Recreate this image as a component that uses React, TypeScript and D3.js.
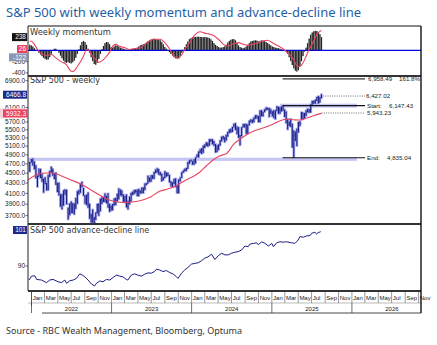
import React from 'react';
import * as d3 from 'd3';

const W = 437, H = 345;
const L = 28, R = 421;
const MOM_TOP = 26, MOM_BOT = 76, PX_TOP = 76, PX_BOT = 224, AD_TOP = 224, AD_BOT = 291, MON_BOT = 303, YR_BOT = 313;

const firstWeek = new Date(2021, 11, 24);

const weekHighs = [
  4740, 4808,
  4818, 4749, 4666, 4453, 4595, 4590, 4489, 4386, 4417, 4300, 4465, 4546, 4637, 4594, 4500, 4513, 4308, 4308, 4082, 4090, 4158, 4177, 4168, 3838, 3913, 3950, 3919, 3915, 4013, 4140, 4167, 4280, 4325, 4203, 4062, 4076, 4119, 3907, 3733, 3807, 3679, 3753, 3905, 3912, 4001, 4028, 4034, 4100, 4052, 4101, 3906, 3878,
  3906, 4003, 4015, 4094, 4195, 4176, 4156, 4079, 4049, 4079, 3963, 4039, 4110, 4133, 4163, 4170, 4170, 4186, 4154, 4212, 4212, 4290, 4299, 4448, 4408, 4458, 4456, 4528, 4578, 4607, 4584, 4527, 4490, 4418, 4541, 4515, 4511, 4462, 4338, 4315, 4385, 4394, 4259, 4374, 4415, 4521, 4560, 4595, 4609, 4738, 4778, 4793,
  4754, 4802, 4842, 4907, 4975, 5030, 5048, 5111, 5140, 5190, 5180, 5262, 5265, 5264, 5220, 5150, 5114, 5139, 5239, 5325, 5342, 5315, 5376, 5447, 5505, 5524, 5570, 5655, 5670, 5585, 5566, 5371, 5563, 5643, 5651, 5651, 5636, 5733, 5768, 5767, 5822, 5879, 5878, 5862, 6012, 6018, 5980, 6045, 6099, 6085, 6085, 6050,
  5993, 6021, 6014, 6128, 6120, 6101, 6128, 6147, 6043, 5986, 5783, 5715, 5787, 5655, 5482, 5459, 5528, 5700, 5720, 5969, 5953, 5944, 6016, 6059, 6051, 6187, 6284, 6290, 6315, 6395, 6427, 6395, 6481,
];
const weekLows = [
  4531, 4729,
  4662, 4582, 4395, 4222, 4433, 4401, 4327, 4115, 4279, 4157, 4161, 4424, 4517, 4450, 4381, 4267, 4128, 4062, 3858, 3811, 3875, 4073, 3900, 3636, 3705, 3741, 3742, 3721, 3818, 3910, 4079, 4112, 4218, 4057, 3907, 3886, 3838, 3647, 3584, 3585, 3491, 3631, 3739, 3698, 3779, 3906, 3940, 3940, 3918, 3839, 3765, 3783,
  3794, 3877, 3885, 3950, 3990, 4060, 4048, 3943, 3928, 3847, 3809, 3901, 3951, 4069, 4086, 4113, 4049, 4048, 4098, 4103, 4104, 4166, 4262, 4293, 4328, 4328, 4385, 4389, 4504, 4516, 4474, 4458, 4335, 4356, 4403, 4430, 4448, 4316, 4238, 4216, 4283, 4223, 4104, 4103, 4339, 4405, 4511, 4537, 4546, 4597, 4699, 4751,
  4682, 4682, 4714, 4845, 4845, 4943, 4920, 4946, 5057, 5105, 5090, 5116, 5203, 5146, 5107, 4953, 4963, 5011, 5114, 5219, 5257, 5191, 5235, 5334, 5420, 5433, 5446, 5563, 5497, 5390, 5302, 5119, 5342, 5562, 5560, 5402, 5406, 5615, 5703, 5674, 5696, 5784, 5794, 5697, 5696, 5853, 5853, 5972, 6020, 6030, 5832, 5920,
  5854, 5807, 5773, 6000, 5924, 5923, 5985, 6008, 5837, 5666, 5505, 5597, 5572, 5070, 4835, 5220, 5101, 5434, 5598, 5770, 5768, 5802, 5861, 5963, 5952, 5960, 6174, 6202, 6201, 6280, 6212, 6247, 6360,
];
const weekCloses = [
  4725, 4766,
  4677, 4663, 4398, 4432, 4501, 4419, 4349, 4385, 4329, 4204, 4463, 4543, 4546, 4488, 4393, 4272, 4132, 4123, 4024, 3901, 4158, 4109, 3901, 3675, 3912, 3825, 3899, 3863, 3962, 4130, 4145, 4280, 4228, 4058, 3924, 4067, 3873, 3693, 3586, 3640, 3583, 3752, 3901, 3771, 3993, 3965, 4026, 4072, 3934, 3852, 3845, 3840,
  3895, 3999, 3973, 4071, 4136, 4090, 4079, 3970, 4046, 3862, 3917, 3971, 4109, 4105, 4138, 4133, 4169, 4136, 4124, 4192, 4205, 4282, 4299, 4410, 4348, 4450, 4399, 4505, 4536, 4582, 4478, 4464, 4370, 4406, 4516, 4457, 4450, 4320, 4288, 4308, 4327, 4224, 4117, 4358, 4415, 4514, 4559, 4595, 4604, 4719, 4755, 4770,
  4697, 4784, 4840, 4891, 4959, 5027, 5006, 5089, 5137, 5124, 5117, 5234, 5254, 5204, 5123, 4967, 5100, 5128, 5223, 5303, 5305, 5278, 5347, 5432, 5465, 5460, 5567, 5615, 5505, 5459, 5347, 5344, 5554, 5635, 5648, 5408, 5626, 5703, 5738, 5751, 5815, 5865, 5808, 5729, 5996, 5871, 5969, 6032, 6090, 6051, 5931, 5971,
  5942, 5827, 5997, 6101, 6041, 6026, 6115, 6013, 5955, 5770, 5639, 5667, 5581, 5074, 5363, 5283, 5525, 5687, 5660, 5958, 5803, 5912, 6000, 5977, 5968, 6173, 6279, 6260, 6297, 6389, 6238, 6389, 6467,
];

const momentum = [
  100, 90, 70, 40,
  10, -10, -40,
  -70, -100, -130, -150, -165, -160, -120, -60,
  0, 30, 30, 0,
  -40, -90, -140, -180, -210, -220, -210, -220, -230, -210, -180, -130, -60,
  20, 90, 150, 170, 150, 100, 30,
  -40, -120, -190, -240, -255, -220, -150, -60,
  20, 80, 130, 150, 145, 110, 60,
  50, 70, 90, 85, 70, 50, 40, 30, 20, 10, 15,
  20, 25, 30, 35, 40, 50,
  70, 90, 100, 110, 120, 140, 160,
  180, 195, 205, 210, 200, 195, 190, 180, 150, 110, 60,
  30, 0, -30,
  -60, -90, -120, -140, -145, -140, -100, -40,
  10, 60, 110, 160,
  200, 220, 235, 240, 240, 245, 245, 240, 240, 235, 240, 235, 230, 220, 200, 170, 130,
  100, 80, 60, 50, 50, 60, 70, 100,
  140, 170, 190, 200, 200, 180, 130,
  90, 60, 50, 40, 50, 70, 100,
  130, 160, 170, 175, 180, 175, 160, 170, 180, 175, 165, 150, 130,
  110, 90, 70, 60, 50, 45, 40, 30, 20,
  10, 0, -20, -60,
  -120, -190, -260, -320, -360, -375, -350, -280, -190,
  -100, -20, 50,
  130, 210, 280, 320, 340, 350, 345, 320, 290, 238,
];

const signalWeeks = [0, 1, 3, 5, 7, 11, 14, 17, 20, 24, 26, 28, 31, 35, 37, 39, 41, 43, 45, 48, 50, 52, 54, 56, 58, 62, 65, 68, 72, 75, 78, 81, 85, 88, 91, 94, 97, 99, 101, 104, 107, 111, 114, 117, 120, 124, 127, 129, 132, 136, 139, 142, 145, 149, 152, 155, 158, 162, 165, 168, 172, 174, 176, 178, 180, 182, 185, 187, 189, 190];
const signalValues = [160, 170, 109, 18, -42, -91, -73, -133, -194, -255, -345, -376, -285, -103, 18, -12, -103, -164, -212, -164, -103, -30, 79, 109, 79, 48, 18, 30, 48, 109, 170, 200, 200, 139, 30, -103, -133, -73, 18, 139, 261, 333, 309, 291, 261, 170, 91, 79, 109, 139, 109, 91, 109, 139, 170, 182, 139, 79, 30, -42, -164, -273, -285, -224, -103, 18, 170, 291, 340, 355];

const maDates = ['2021-12-15', '2022-01-15', '2022-02-14', '2022-03-16', '2022-04-15', '2022-05-15', '2022-06-30', '2022-08-14', '2022-09-29', '2022-11-13', '2022-12-22', '2023-01-21', '2023-03-01', '2023-04-15', '2023-05-23', '2023-06-30', '2023-08-08', '2023-09-14', '2023-10-23', '2023-12-01', '2024-01-14', '2024-02-07', '2024-03-09', '2024-04-08', '2024-05-09', '2024-06-09', '2024-07-09', '2024-08-09', '2024-09-08', '2024-10-08', '2024-11-08', '2024-12-08', '2025-01-08', '2025-02-08', '2025-03-10', '2025-04-09', '2025-05-10', '2025-06-09', '2025-07-09', '2025-08-15'];
const maValues = [4362, 4449, 4499, 4506, 4499, 4449, 4362, 4282, 4166, 4057, 3977, 3946, 3934, 3946, 3977, 4038, 4140, 4184, 4248, 4348, 4449, 4520, 4659, 4784, 4879, 4930, 5134, 5270, 5376, 5461, 5519, 5578, 5648, 5735, 5772, 5761, 5753, 5807, 5869, 5932];

const adDates = ['2021-12-21', '2022-01-01', '2022-01-16', '2022-01-24', '2022-02-16', '2022-03-10', '2022-03-25', '2022-04-09', '2022-05-02', '2022-05-17', '2022-06-02', '2022-06-10', '2022-06-25', '2022-07-10', '2022-07-25', '2022-08-09', '2022-08-21', '2022-09-01', '2022-09-16', '2022-10-01', '2022-10-16', '2022-10-24', '2022-11-08', '2022-11-23', '2022-12-09', '2022-12-24', '2023-01-08', '2023-01-23', '2023-02-07', '2023-02-22', '2023-03-09', '2023-03-16', '2023-04-01', '2023-04-16', '2023-05-01', '2023-05-17', '2023-06-01', '2023-06-16', '2023-07-01', '2023-07-16', '2023-07-24', '2023-08-08', '2023-08-23', '2023-09-08', '2023-09-23', '2023-10-08', '2023-10-24', '2023-10-31', '2023-11-16', '2023-12-01', '2023-12-16', '2024-01-01', '2024-01-16', '2024-01-31', '2024-02-15', '2024-03-01', '2024-03-16', '2024-04-01', '2024-04-16', '2024-05-01', '2024-05-17', '2024-06-01', '2024-06-16', '2024-07-01', '2024-07-16', '2024-07-31', '2024-08-16', '2024-08-31', '2024-09-15', '2024-09-23', '2024-10-08', '2024-10-24', '2024-10-31', '2024-11-16', '2024-12-01', '2024-12-16', '2025-01-01', '2025-01-08', '2025-01-23', '2025-02-07', '2025-02-22', '2025-03-09', '2025-04-01', '2025-04-16', '2025-05-01', '2025-05-09', '2025-05-24', '2025-06-09', '2025-06-24', '2025-07-01', '2025-07-16', '2025-07-24', '2025-07-31', '2025-08-12'];
const adValues = [85.7, 86.9, 87.0, 85.9, 85.7, 84.9, 85.7, 85.9, 85.2, 84.9, 85.7, 84.7, 85.5, 85.7, 86.2, 87.6, 87.2, 86.7, 85.7, 84.5, 83.9, 84.7, 85.4, 85.2, 85.9, 85.7, 86.5, 87.2, 86.9, 86.7, 85.9, 85.7, 87.2, 87.6, 87.2, 86.9, 87.5, 87.9, 87.8, 88.3, 89.0, 88.8, 88.3, 88.6, 88.0, 87.6, 86.7, 86.2, 87.8, 88.8, 89.6, 90.6, 90.8, 91.0, 91.6, 92.4, 92.8, 93.6, 92.0, 93.1, 93.9, 93.4, 93.4, 93.9, 94.2, 94.4, 94.9, 96.1, 95.9, 96.7, 96.9, 97.1, 96.5, 97.4, 96.9, 96.1, 96.9, 95.9, 97.1, 97.4, 97.3, 97.4, 97.1, 96.9, 97.95, 99.0, 98.8, 99.2, 99.3, 100.0, 100.3, 99.8, 100.2, 100.5];

const priceTicks = [6900, 6100, 5700, 5500, 5300, 5100, 4900, 4700, 4500, 4300, 4100, 3900, 3700];
const momTicks = [-200, -400];
const adTicks = [90];
const monthLabels = ['Jan', 'Mar', 'May', 'Jul', 'Sep', 'Nov'];
const yearLabels = [2022, 2023, 2024, 2025, 2026];

const fibHigh = 6958.49, fibPct = '161.8%';
const recentHigh = 6427.02;
const startLevel = 6147.43;
const midLevel = 5943.23;
const endLevel = 4835.04;
const startDate = '2025-02-19';
const lastClose = 6466.8, lastMA = 5932.3;
const momLast = 238, sigLast = 26, momMark = -122, adLast = 101;

const parse = d3.timeParse('%Y-%m-%d');
const fmt = d3.format(',.2f');

const x = d3.scaleTime().domain([new Date(2021, 11, 16), new Date(2026, 10, 12)]).range([L, R]);
const yP = d3.scaleLog().domain([3560, 7050]).range([PX_BOT, PX_TOP]);
const yM = d3.scaleLinear().domain([-455, 436]).range([MOM_BOT, MOM_TOP]);
const yA = d3.scaleLinear().domain([90 - 25 / 3.27, 90 + 42 / 3.27]).range([AD_BOT, AD_TOP]);

const weekDate = (i: number) => d3.timeDay.offset(firstWeek, 7 * i);

const AX = 'Liberation Sans, Arial, sans-serif';
const PT = 'DejaVu Sans, Verdana, sans-serif';

function Tag({ y, text, fill, x0 = 3, color = '#fff' }: any) {
  return (
    <g>
      <rect x={x0} y={y - 4} width={27 - x0} height={8} fill={fill} />
      <text x={26} y={y + 2.3} fontSize={6.5} fontFamily={AX} textAnchor="end" fill={color}>{text}</text>
    </g>
  );
}

export default function App() {
  const maLine = d3.line<number>().x((_, i) => x(parse(maDates[i])!)).y((v) => yP(v)).curve(d3.curveMonotoneX);
  const adLine = d3.line<number>().x((_, i) => x(parse(adDates[i])!)).y((v) => yA(v));
  const sigLine = d3.line<number>().x((_, i) => x(weekDate(signalWeeks[i]))).y((v) => yM(v)).curve(d3.curveMonotoneX);

  const months: Date[] = d3.timeMonth.every(2)!.range(new Date(2022, 0, 1), new Date(2026, 11, 1));
  const yearStarts = yearLabels.map((y) => new Date(y, 0, 1));
  const xStart = x(parse(startDate)!);
  const lineEnd = 365;
  const lblX = 367;

  return (
    <svg width={W} height={H} style={{ position: 'absolute', left: 0, top: 0, background: '#fff' }}>
      <defs>
        <clipPath id="cm"><rect x={L} y={MOM_TOP} width={R - L} height={MOM_BOT - MOM_TOP} /></clipPath>
        <clipPath id="cp"><rect x={L} y={PX_TOP} width={R - L} height={PX_BOT - PX_TOP} /></clipPath>
        <clipPath id="ca"><rect x={L} y={AD_TOP} width={R - L} height={AD_BOT - AD_TOP} /></clipPath>
      </defs>
      <rect x={0} y={0} width={W} height={H} fill="#fff" />
      <text x={6} y={17} fontSize={13} fontFamily="Noto Sans, Open Sans, sans-serif" fill="#1f5fa6">S&amp;P 500 with weekly momentum and advance-decline line</text>

      {/* Momentum panel */}
      <g clipPath="url(#cm)">
        {momentum.map((v, i) => {
          const cx = x(weekDate(i));
          const y0 = yM(0), y1 = yM(v);
          return <rect key={'mh' + i} x={cx - 0.78} y={Math.min(y0, y1)} width={1.56} height={Math.abs(y1 - y0)} fill="#9a9a9a" />;
        })}
        {momentum.map((v, i) => {
          const cx = x(weekDate(i));
          const y0 = yM(0), y1 = yM(v);
          return <rect key={'mc' + i} x={cx - 0.45} y={Math.min(y0, y1)} width={0.9} height={Math.abs(y1 - y0)} fill="#111" />;
        })}
        <line x1={L} x2={R} y1={yM(0)} y2={yM(0)} stroke="#0000dd" strokeWidth={1.3} />
        <path d={sigLine(signalValues)!} fill="none" stroke="#e8435f" strokeWidth={1.1} />
      </g>
      <text x={30} y={35} fontSize={8.3} fontFamily={PT} fill="#333">Weekly momentum</text>
      {momTicks.map((t) => (
        <g key={'mt' + t}>
          <line x1={25.5} x2={L} y1={yM(t)} y2={yM(t)} stroke="#333" strokeWidth={0.7} />
          <text x={25} y={yM(t) + 2.2} fontSize={6.5} fontFamily={AX} textAnchor="end" fill="#222">{t}</text>
        </g>
      ))}
      <Tag y={yM(momLast)} text={String(momLast)} fill="#111" x0={12} />
      <Tag y={yM(sigLast)} text={String(sigLast)} fill="#e8435f" x0={17} />
      <Tag y={yM(momMark)} text={String(momMark)} fill="#8a98b4" x0={9} color="#fff" />

      {/* Price panel */}
      <g clipPath="url(#cp)">
        <rect x={L} y={yP(endLevel)} width={357 - L} height={3.2} fill="#c6c6f4" />
        <rect x={280} y={yP(startLevel) - 2} width={357 - 280} height={4} fill="#c6c6f4" />
        {weekHighs.map((h, i) => {
          const cx = x(weekDate(i));
          return <line key={'ph' + i} x1={cx} x2={cx} y1={yP(weekLows[i]) + 0.8} y2={yP(h) - 0.8} stroke="#a9aeee" strokeWidth={2.8} />;
        })}
        {weekHighs.map((h, i) => {
          const cx = x(weekDate(i));
          const prev = i > 0 ? weekCloses[i - 1] : weekCloses[i];
          return (
            <g key={'pc' + i}>
              <line x1={cx} x2={cx} y1={yP(weekLows[i])} y2={yP(h)} stroke="#1b1e86" strokeWidth={1.1} />
              <line x1={cx - 0.8} x2={cx} y1={yP(prev)} y2={yP(prev)} stroke="#1b1e86" strokeWidth={0.6} />
            </g>
          );
        })}
        <path d={maLine(maValues)!} fill="none" stroke="#e8435f" strokeWidth={1.1} />
        <line x1={xStart} x2={lineEnd} y1={yP(fibHigh)} y2={yP(fibHigh)} stroke="#333" strokeWidth={1.4} />
        <line x1={xStart} x2={lineEnd} y1={yP(startLevel)} y2={yP(startLevel)} stroke="#111" strokeWidth={1.1} />
        <line x1={xStart} x2={lineEnd} y1={yP(endLevel)} y2={yP(endLevel)} stroke="#111" strokeWidth={1.1} />
        <line x1={x(weekDate(weekCloses.length - 1)) + 1.5} x2={lineEnd} y1={yP(recentHigh)} y2={yP(recentHigh)} stroke="#444" strokeWidth={0.8} strokeDasharray="1,1.3" />
        <line x1={x(weekDate(weekCloses.length - 1))} x2={lineEnd} y1={yP(midLevel)} y2={yP(midLevel)} stroke="#444" strokeWidth={0.8} strokeDasharray="1,1.3" />
      </g>
      <text x={30} y={83} fontSize={8} fontFamily={PT} fill="#333">S&amp;P 500 - weekly</text>
      <g fontSize={6.2} fontFamily={AX} fill="#222">
        <text x={lblX + 1} y={yP(fibHigh) + 2.2}>{fmt(fibHigh)}</text>
        <text x={399} y={yP(fibHigh) + 2.2}>{fibPct}</text>
        <text x={lblX - 1} y={yP(recentHigh) + 2.2}>{fmt(recentHigh)}</text>
        <text x={lblX} y={yP(startLevel) + 2.2}>Start:</text>
        <text x={389} y={yP(startLevel) + 2.2}>{fmt(startLevel)}</text>
        <text x={lblX} y={yP(midLevel) + 2.2}>{fmt(midLevel)}</text>
        <text x={lblX} y={yP(endLevel) + 2.2}>End:</text>
        <text x={387} y={yP(endLevel) + 2.2}>{fmt(endLevel)}</text>
      </g>
      {priceTicks.map((t) => (
        <g key={'pt' + t}>
          <line x1={25.5} x2={L} y1={yP(t)} y2={yP(t)} stroke="#333" strokeWidth={0.7} />
          <text x={25} y={yP(t) + 2.2} fontSize={6.5} fontFamily={AX} textAnchor="end" fill="#222">{t.toFixed(1)}</text>
        </g>
      ))}
      <Tag y={yP(lastClose)} text={lastClose.toFixed(1)} fill="#1b2a8c" />
      <rect x={0} y={yP(lastMA) - 5} width={28} height={10} fill="#fbd3da" />
      <Tag y={yP(lastMA)} text={lastMA.toFixed(1)} fill="#e8435f" />

      {/* AD panel */}
      <g clipPath="url(#ca)">
        <path d={adLine(adValues)!} fill="none" stroke="#1b1e86" strokeWidth={1} />
      </g>
      <text x={30} y={233} fontSize={8} fontFamily={PT} fill="#333">S&amp;P 500 advance-decline line</text>
      {adTicks.map((t) => (
        <g key={'at' + t}>
          <line x1={25.5} x2={L} y1={yA(t)} y2={yA(t)} stroke="#333" strokeWidth={0.7} />
          <text x={25} y={yA(t) + 2.2} fontSize={6.5} fontFamily={AX} textAnchor="end" fill="#222">{t}</text>
        </g>
      ))}
      <Tag y={yA(adLast)} text={String(adLast)} fill="#1b2a8c" x0={13} />

      {/* Time axis */}
      {months.map((m, i) => (
        <g key={'mo' + i}>
          <line x1={x(m)} x2={x(m)} y1={AD_BOT} y2={MON_BOT} stroke="#555" strokeWidth={0.6} />
          {x(m) + 2 < R && (
            <text x={x(m) + 1.2} y={300} fontSize={6} fontFamily={AX} fill="#222">{monthLabels[m.getMonth() / 2]}</text>
          )}
        </g>
      ))}
      <line x1={L} x2={R} y1={MON_BOT} y2={MON_BOT} stroke="#777" strokeWidth={0.5} />
      {yearStarts.map((d, i) => {
        const next = new Date(yearLabels[i] + 1, 0, 1);
        return (
          <g key={'yr' + i}>
            <line x1={x(d)} x2={x(d)} y1={MON_BOT} y2={YR_BOT} stroke="#333" strokeWidth={0.7} />
            <text x={(x(d) + x(next)) / 2} y={310.5} fontSize={6} fontFamily={AX} textAnchor="middle" fill="#222">{yearLabels[i]}</text>
          </g>
        );
      })}
      <line x1={x(new Date(2022, 0, 1))} x2={x(new Date(2022, 0, 1))} y1={AD_BOT} y2={306} stroke="#333" strokeWidth={0.7} />
      <line x1={42} x2={R} y1={YR_BOT} y2={YR_BOT} stroke="#333" strokeWidth={0.9} />

      {/* Frames */}
      <line x1={L} x2={R} y1={MOM_TOP} y2={MOM_TOP} stroke="#111" strokeWidth={1} />
      <line x1={L} x2={R} y1={PX_TOP} y2={PX_TOP} stroke="#333" strokeWidth={1.8} />
      <line x1={L} x2={R} y1={AD_TOP} y2={AD_TOP} stroke="#333" strokeWidth={1.8} />
      <line x1={L} x2={R} y1={AD_BOT} y2={AD_BOT} stroke="#333" strokeWidth={1.8} />
      <line x1={L} x2={L} y1={MOM_TOP} y2={AD_BOT} stroke="#222" strokeWidth={1} />
      <line x1={R} x2={R} y1={MOM_TOP} y2={YR_BOT} stroke="#111" strokeWidth={1.4} />

      <text x={6} y={334} fontSize={9} fontFamily="Noto Sans, Open Sans, sans-serif" fill="#333">Source - RBC Wealth Management, Bloomberg, Optuma</text>
    </svg>
  );
}
